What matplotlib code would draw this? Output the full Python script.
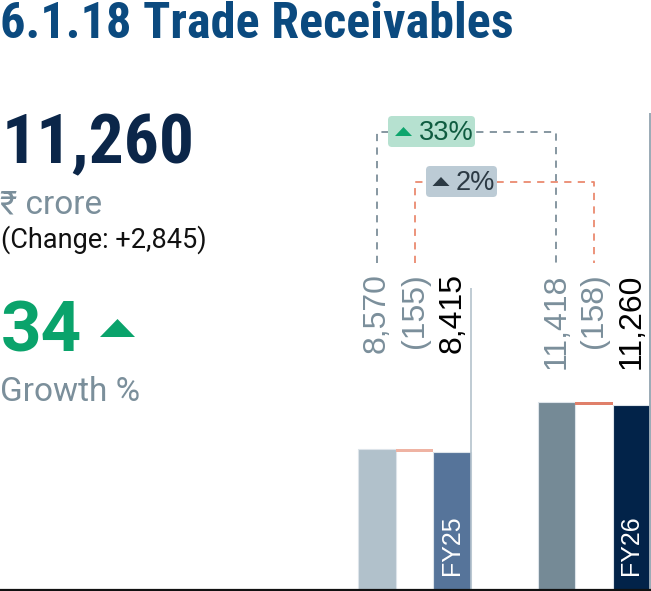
import matplotlib
matplotlib.use("Agg")
import matplotlib.pyplot as plt
from matplotlib.patches import FancyBboxPatch, Polygon

# data
years = ["FY25", "FY26"]
opening = [8570, 11418]
change = [-155, -158]
closing = [8415, 11260]
growth = [33, 2]

headline = "11,260"
unit = "\u20b9 crore"
change_txt = "(Change: +2,845)"
growth_big = "34"

W, H = 651, 591
fig = plt.figure(figsize=(W / 100, H / 100), dpi=100)

# axes spans the full width, baseline at pixel row 590
XMIN, XMAX = -10.05, 7.30
YTOP = 35866
ax = fig.add_axes([0, 1 / H, 1, 1 - 1 / H])
ax.set_xlim(XMIN, XMAX)
ax.set_ylim(0, YTOP)
PXX = W / (XMAX - XMIN)
PXY = (H - 1) / YTOP


def px(xp, yp):  # pixel (from top-left) -> data
    return xp / PXX + XMIN, (H - 1 - yp) / PXY


def fpx(xp, yp):  # pixel -> figure fraction
    return xp / W, 1 - yp / H


for s in ["top", "left", "right"]:
    ax.spines[s].set_visible(False)
ax.spines["bottom"].set_linewidth(1.6)
ax.spines["bottom"].set_color("#111111")
ax.set_xticks([])
ax.set_yticks([])

gap = 4.78
open_cols = ["#b1c1cb", "#758a96"]
close_cols = ["#56749a", "#022349"]
chg_cols = ["#efb3a3", "#e0806a"]
edge = "#dde4ea"
LABEL_TOP = 19250
SANS = ["Liberation Sans", "DejaVu Sans"]
COND = ["Roboto Condensed", "Roboto", "DejaVu Sans"]

for i in range(2):
    x0 = i * gap
    ax.bar(x0, opening[i], width=1, color=open_cols[i], edgecolor=edge, linewidth=0.8)
    ax.bar(x0 + 1, -change[i], bottom=closing[i], width=1, color=chg_cols[i], linewidth=0)
    ax.bar(x0 + 2, closing[i], width=1, color=close_cols[i], edgecolor=edge, linewidth=0.8)

    lab_kw = dict(rotation=90, ha="center", va="top", fontsize=23, family=SANS)
    ax.text(x0, LABEL_TOP, f"{opening[i]:,}", color="#7b8f9b", **lab_kw)
    ax.text(x0 + 1, LABEL_TOP, f"({-change[i]:,})", color="#7b8f9b", **lab_kw)
    ax.text(x0 + 2, LABEL_TOP, f"{closing[i]:,}", color="#000000", **lab_kw)

    ax.text(x0 + 2, 912, years[i], rotation=90, ha="center", va="bottom",
            fontsize=18, color="white", family=SANS)

# group separators
ax.vlines(2.5, 0, 18360, color="#b4c2cc", linewidth=1.2)
ax.vlines(gap + 2.5, 0, 29000, color="#9aaab5", linewidth=1.4, clip_on=False)

# brackets
brackets = [(0, gap, 27842, "#7d8f9a"), (1, gap + 1, 24802, "#ea8a70")]
for xa, xb, yb, c in brackets:
    ybot = 19880
    ax.plot([xa, xa, xb, xb], [ybot, yb, yb, ybot], color=c, linewidth=1.3,
            dashes=(4, 3.5))

# growth boxes
boxes = [
    dict(x=388, y=116, w=87, h=31, fc="#b6e1d0", tc="#0f5c40", trc="#0ea56d",
         tx=403.5, txt_x=419),
    dict(x=426, y=166, w=71, h=31, fc="#bccbd5", tc="#2c3a44", trc="#2c3a44",
         tx=441, txt_x=456),
]
RX = 4 / PXX
for b, g in zip(boxes, growth):
    bx, by = px(b["x"], b["y"] + b["h"])
    bw, bh = b["w"] / PXX, b["h"] / PXY
    ax.add_patch(FancyBboxPatch((bx, by), bw, bh,
                                boxstyle=f"round,pad=0,rounding_size={RX}",
                                mutation_aspect=(4 / PXY) / RX,
                                fc=b["fc"], ec="none", zorder=4))
    cy = b["y"] + b["h"] / 2
    tri = [px(b["tx"] - 8.5, cy + 4.5), px(b["tx"] + 8.5, cy + 4.5), px(b["tx"], cy - 4.5)]
    ax.add_patch(Polygon(tri, closed=True, fc=b["trc"], ec="none", zorder=5))
    tx, ty = px(b["txt_x"], cy + 1)
    ax.text(tx, ty, f"{g}%", ha="left", va="center", fontsize=19.5, color=b["tc"],
            family=SANS, zorder=6)

# left panel text
fig.text(*fpx(0, 38), "6.1.18 Trade Receivables", fontsize=36.2, fontweight="bold",
         color="#0b4a7f", ha="left", va="baseline", family=COND)
fig.text(*fpx(2, 163), headline, fontsize=50, fontweight="bold", color="#0b2649",
         ha="left", va="baseline", family=COND)
fig.text(*fpx(0, 213), unit, fontsize=24, color="#7b8f9b", ha="left", va="baseline",
         family=["Roboto", "Noto Sans", "DejaVu Sans"])
fig.text(*fpx(1, 248), change_txt, fontsize=19.5, color="#111111", ha="left",
         va="baseline", family=["Roboto", "DejaVu Sans"])
fig.text(*fpx(1, 352), growth_big, fontsize=51, fontweight="bold", color="#0aa36b",
         ha="left", va="baseline", family=["Roboto", "DejaVu Sans"])
fig.add_artist(Polygon([fpx(100, 337), fpx(135, 337), fpx(117.5, 319)], closed=True,
                       fc="#0aa36b", ec="none", transform=fig.transFigure))
fig.text(*fpx(0, 401), "Growth %", fontsize=24, color="#7b8f9b", ha="left",
         va="baseline", family=["Roboto", "DejaVu Sans"])

fig.savefig("out.png", dpi=100)
